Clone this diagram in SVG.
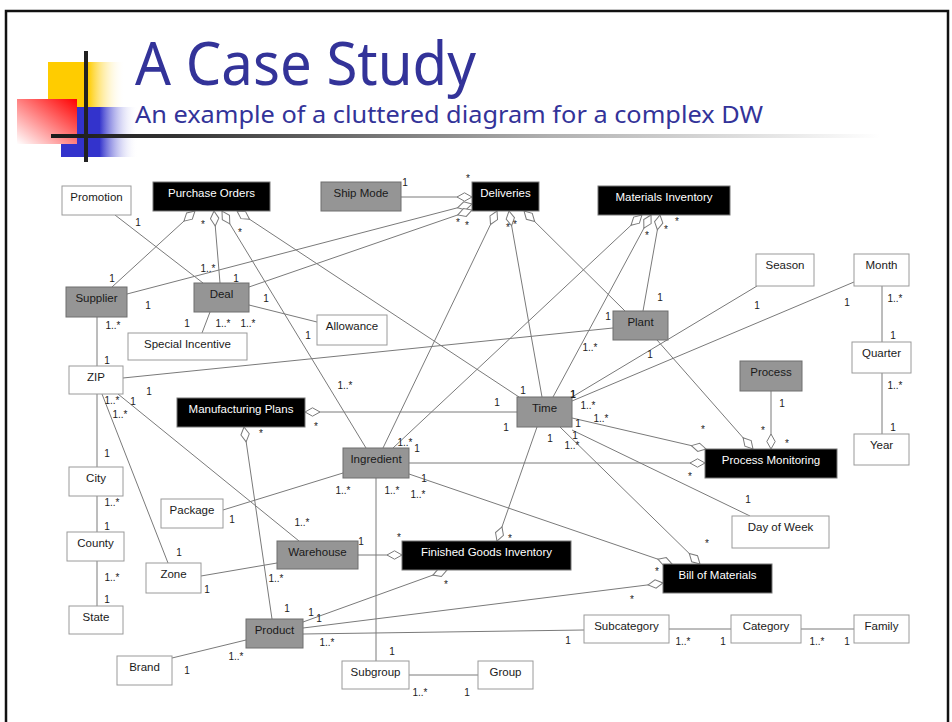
<svg xmlns="http://www.w3.org/2000/svg" width="952" height="722" viewBox="0 0 952 722">
<style>
  .w { fill: #ffffff; stroke: #9a9a9a; stroke-width: 1; }
  .g { fill: #959595; stroke: #6e6e6e; stroke-width: 1; }
  .b { fill: #000000; stroke: #777777; stroke-width: 1; }
  .lbl { font-family: "Liberation Sans", Arial, sans-serif; font-size: 11.5px; text-anchor: middle; fill: #1a1a1a; }
  .lblw { font-family: "Liberation Sans", Arial, sans-serif; font-size: 11.5px; text-anchor: middle; fill: #ffffff; }
  .m { font-family: "Liberation Sans", Arial, sans-serif; font-size: 10px; text-anchor: middle; fill: #222222; }
  #connectors line { stroke: #7a7a7a; stroke-width: 1; fill: none; }
  #connectors line.agg { marker-end: url(#dia); }
</style>
<defs>
  <marker id="dia" markerUnits="userSpaceOnUse" markerWidth="17" markerHeight="10" viewBox="0 0 17 10" refX="16" refY="5" orient="auto">
    <path d="M1,5 L8.5,0.8 L16,5 L8.5,9.2 Z" fill="#ffffff" stroke="#7a7a7a" stroke-width="1"/>
  </marker>
  <linearGradient id="yel" x1="0" y1="0" x2="1" y2="0">
    <stop offset="0" stop-color="#ffcc00"/>
    <stop offset="0.52" stop-color="#ffcc00"/>
    <stop offset="1" stop-color="#ffffff" stop-opacity="0"/>
  </linearGradient>
  <linearGradient id="blu" x1="0" y1="0" x2="1" y2="0">
    <stop offset="0" stop-color="#3333cc"/>
    <stop offset="0.5" stop-color="#3333cc"/>
    <stop offset="1" stop-color="#ffffff" stop-opacity="0"/>
  </linearGradient>
  <linearGradient id="red" x1="1" y1="0" x2="0" y2="1">
    <stop offset="0" stop-color="#ff0000"/>
    <stop offset="1" stop-color="#ffffff"/>
  </linearGradient>
  <linearGradient id="rule" gradientUnits="userSpaceOnUse" x1="51" y1="0" x2="880" y2="0">
    <stop offset="0" stop-color="#1a1a1a"/>
    <stop offset="0.15" stop-color="#333333"/>
    <stop offset="0.6" stop-color="#b0b0b0"/>
    <stop offset="1" stop-color="#ffffff"/>
  </linearGradient>
</defs>

<rect x="0" y="0" width="952" height="722" fill="#ffffff"/>
<rect x="6" y="11" width="942" height="720" fill="none" stroke="#111111" stroke-width="2.5"/>

<!-- slide header ornament -->
<g id="header">
  <rect x="48" y="62" width="77" height="45" fill="url(#yel)"/>
  <rect x="61" y="107" width="77" height="50" fill="url(#blu)"/>
  <rect x="17" y="99" width="60" height="45" fill="url(#red)"/>
  <rect x="51" y="134" width="829" height="4" fill="url(#rule)"/>
  <rect x="84" y="51" width="4" height="111" fill="#222222"/>
  <text x="135" y="85" font-family="Noto Sans, Open Sans, sans-serif" font-size="61" fill="#333399" textLength="341" lengthAdjust="spacingAndGlyphs">A Case Study</text>
  <text x="135" y="123" font-family="Noto Sans, Open Sans, sans-serif" font-size="23.5" fill="#333399" textLength="628" lengthAdjust="spacingAndGlyphs">An example of a cluttered diagram for a complex DW</text>
</g>

<g id="connectors">
  <line class="agg" x1="112" y1="287" x2="195" y2="211"/>
  <line class="agg" x1="220" y1="283" x2="214" y2="211"/>
  <line class="agg" x1="366" y1="448" x2="222" y2="211"/>
  <line class="agg" x1="519" y1="397" x2="237" y2="211"/>
  <line x1="115" y1="215" x2="203" y2="283"/>
  <line class="agg" x1="127" y1="294" x2="472" y2="204"/>
  <line class="agg" x1="249" y1="287" x2="472" y2="210"/>
  <line class="agg" x1="401" y1="197" x2="472" y2="197"/>
  <line class="agg" x1="383" y1="448" x2="497" y2="211"/>
  <line class="agg" x1="542" y1="397" x2="509" y2="211"/>
  <line class="agg" x1="625" y1="311" x2="524" y2="211"/>
  <line class="agg" x1="393" y1="448" x2="642" y2="215"/>
  <line class="agg" x1="553" y1="397" x2="651" y2="215"/>
  <line class="agg" x1="643" y1="311" x2="660" y2="215"/>
  <line x1="757" y1="286" x2="572" y2="397"/>
  <line x1="854" y1="282" x2="572" y2="401"/>
  <line x1="882" y1="286" x2="882" y2="342"/>
  <line x1="882" y1="373" x2="882" y2="434"/>
  <line class="agg" x1="657" y1="340" x2="753" y2="449"/>
  <line class="agg" x1="771" y1="391" x2="771" y2="449"/>
  <line class="agg" x1="572" y1="418" x2="706" y2="449"/>
  <line class="agg" x1="409" y1="463" x2="705" y2="463"/>
  <line x1="572" y1="430" x2="750" y2="516"/>
  <line class="agg" x1="560" y1="427" x2="700" y2="564"/>
  <line class="agg" x1="409" y1="474" x2="672" y2="564"/>
  <line class="agg" x1="303" y1="628" x2="663" y2="583"/>
  <line class="agg" x1="537" y1="427" x2="497" y2="541"/>
  <line class="agg" x1="358" y1="555" x2="402" y2="555"/>
  <line class="agg" x1="303" y1="622" x2="447" y2="570"/>
  <line x1="303" y1="634" x2="584" y2="630"/>
  <line x1="669" y1="629" x2="731" y2="629"/>
  <line x1="801" y1="629" x2="854" y2="629"/>
  <line x1="409" y1="675" x2="478" y2="675"/>
  <line x1="376" y1="478" x2="376" y2="661"/>
  <line x1="223" y1="510" x2="343" y2="473"/>
  <line x1="118" y1="394" x2="299" y2="541"/>
  <line x1="102" y1="394" x2="168" y2="563"/>
  <line x1="201" y1="576" x2="277" y2="563"/>
  <line x1="123" y1="378" x2="613" y2="328"/>
  <line x1="97" y1="317" x2="97" y2="366"/>
  <line x1="97" y1="394" x2="97" y2="467"/>
  <line x1="97" y1="496" x2="97" y2="532"/>
  <line x1="97" y1="561" x2="97" y2="606"/>
  <line x1="210" y1="312" x2="202" y2="333"/>
  <line x1="249" y1="305" x2="317" y2="322"/>
  <line class="agg" x1="517" y1="412" x2="305" y2="412"/>
  <line class="agg" x1="272" y1="619" x2="244" y2="427"/>
  <line x1="172" y1="658" x2="246" y2="640"/>
</g>

<!-- dimension tables -->
<g id="promotion"><rect class="w" x="62" y="186" width="69" height="29"/><text class="lbl" x="96.5" y="200.5">Promotion</text></g>
<g id="special-incentive"><rect class="w" x="128" y="333" width="119" height="27"/><text class="lbl" x="187.5" y="347.5">Special Incentive</text></g>
<g id="allowance"><rect class="w" x="317" y="315" width="70" height="30"/><text class="lbl" x="352" y="329.5">Allowance</text></g>
<g id="zip"><rect class="w" x="69" y="366" width="54" height="28"/><text class="lbl" x="96" y="380.5">ZIP</text></g>
<g id="city"><rect class="w" x="69" y="467" width="54" height="29"/><text class="lbl" x="96" y="481.5">City</text></g>
<g id="county"><rect class="w" x="67" y="532" width="57" height="29"/><text class="lbl" x="95.5" y="546.5">County</text></g>
<g id="state"><rect class="w" x="69" y="606" width="54" height="28"/><text class="lbl" x="96" y="620.5">State</text></g>
<g id="package"><rect class="w" x="161" y="499" width="62" height="29"/><text class="lbl" x="192" y="513.5">Package</text></g>
<g id="zone"><rect class="w" x="146" y="563" width="55" height="30"/><text class="lbl" x="173.5" y="577.5">Zone</text></g>
<g id="brand"><rect class="w" x="117" y="656" width="55" height="29"/><text class="lbl" x="144.5" y="670.5">Brand</text></g>
<g id="season"><rect class="w" x="756" y="254" width="58" height="32"/><text class="lbl" x="785" y="268.5">Season</text></g>
<g id="month"><rect class="w" x="854" y="254" width="55" height="32"/><text class="lbl" x="881.5" y="268.5">Month</text></g>
<g id="quarter"><rect class="w" x="852" y="342" width="59" height="31"/><text class="lbl" x="881.5" y="356.5">Quarter</text></g>
<g id="year"><rect class="w" x="854" y="434" width="55" height="31"/><text class="lbl" x="881.5" y="448.5">Year</text></g>
<g id="day-of-week"><rect class="w" x="732" y="516" width="97" height="32"/><text class="lbl" x="780.5" y="530.5">Day of Week</text></g>
<g id="subcategory"><rect class="w" x="584" y="615" width="85" height="28"/><text class="lbl" x="626.5" y="629.5">Subcategory</text></g>
<g id="category"><rect class="w" x="731" y="615" width="70" height="28"/><text class="lbl" x="766" y="629.5">Category</text></g>
<g id="family"><rect class="w" x="854" y="615" width="55" height="28"/><text class="lbl" x="881.5" y="629.5">Family</text></g>
<g id="subgroup"><rect class="w" x="342" y="661" width="67" height="28"/><text class="lbl" x="375.5" y="675.5">Subgroup</text></g>
<g id="group"><rect class="w" x="478" y="661" width="55" height="28"/><text class="lbl" x="505.5" y="675.5">Group</text></g>

<!-- shared dimensions -->
<g id="supplier"><rect class="g" x="66" y="287" width="61" height="30"/><text class="lbl" x="96.5" y="301.5">Supplier</text></g>
<g id="deal"><rect class="g" x="194" y="283" width="55" height="29"/><text class="lbl" x="221.5" y="297.5">Deal</text></g>
<g id="ship-mode"><rect class="g" x="321" y="182" width="80" height="29"/><text class="lbl" x="361" y="196.5">Ship Mode</text></g>
<g id="plant"><rect class="g" x="613" y="311" width="55" height="29"/><text class="lbl" x="640.5" y="325.5">Plant</text></g>
<g id="time"><rect class="g" x="517" y="397" width="55" height="30"/><text class="lbl" x="544.5" y="411.5">Time</text></g>
<g id="process"><rect class="g" x="740" y="361" width="62" height="30"/><text class="lbl" x="771" y="375.5">Process</text></g>
<g id="ingredient"><rect class="g" x="343" y="448" width="66" height="30"/><text class="lbl" x="376" y="462.5">Ingredient</text></g>
<g id="warehouse"><rect class="g" x="277" y="541" width="81" height="28"/><text class="lbl" x="317.5" y="555.5">Warehouse</text></g>
<g id="product"><rect class="g" x="246" y="619" width="57" height="29"/><text class="lbl" x="274.5" y="633.5">Product</text></g>

<!-- fact tables -->
<g id="purchase-orders"><rect class="b" x="153" y="182" width="117" height="29"/><text class="lblw" x="211.5" y="196.5">Purchase Orders</text></g>
<g id="deliveries"><rect class="b" x="472" y="182" width="67" height="29"/><text class="lblw" x="505.5" y="196.5">Deliveries</text></g>
<g id="materials-inventory"><rect class="b" x="598" y="186" width="132" height="29"/><text class="lblw" x="664" y="200.5">Materials Inventory</text></g>
<g id="manufacturing-plans"><rect class="b" x="177" y="398" width="128" height="29"/><text class="lblw" x="241" y="412.5">Manufacturing Plans</text></g>
<g id="process-monitoring"><rect class="b" x="705" y="449" width="132" height="29"/><text class="lblw" x="771" y="463.5">Process Monitoring</text></g>
<g id="finished-goods-inventory"><rect class="b" x="402" y="541" width="169" height="29"/><text class="lblw" x="486.5" y="555.5">Finished Goods Inventory</text></g>
<g id="bill-of-materials"><rect class="b" x="663" y="564" width="109" height="29"/><text class="lblw" x="717.5" y="578.5">Bill of Materials</text></g>

<!-- multiplicities -->
<g id="multiplicities">
  <text class="m" x="138" y="226">1</text>
  <text class="m" x="203" y="228">*</text>
  <text class="m" x="240" y="236">*</text>
  <text class="m" x="208" y="272">1..*</text>
  <text class="m" x="112" y="282">1</text>
  <text class="m" x="236" y="282">1</text>
  <text class="m" x="148" y="309">1</text>
  <text class="m" x="187" y="327">1</text>
  <text class="m" x="223" y="327">1..*</text>
  <text class="m" x="248" y="327">1..*</text>
  <text class="m" x="266" y="302">1</text>
  <text class="m" x="308" y="339">1</text>
  <text class="m" x="113" y="329">1..*</text>
  <text class="m" x="405" y="186">1</text>
  <text class="m" x="468" y="182">*</text>
  <text class="m" x="458" y="226">*</text>
  <text class="m" x="467" y="229">*</text>
  <text class="m" x="508" y="231">*</text>
  <text class="m" x="515" y="228">*</text>
  <text class="m" x="647" y="239">*</text>
  <text class="m" x="666" y="233">*</text>
  <text class="m" x="677" y="225">*</text>
  <text class="m" x="660" y="301">1</text>
  <text class="m" x="608" y="320">1</text>
  <text class="m" x="590" y="351">1..*</text>
  <text class="m" x="650" y="358">1</text>
  <text class="m" x="757" y="309">1</text>
  <text class="m" x="847" y="306">1</text>
  <text class="m" x="895" y="302">1..*</text>
  <text class="m" x="893" y="339">1</text>
  <text class="m" x="895" y="389">1..*</text>
  <text class="m" x="893" y="431">1</text>
  <text class="m" x="107" y="364">1</text>
  <text class="m" x="149" y="395">1</text>
  <text class="m" x="133" y="405">1</text>
  <text class="m" x="112" y="404">1..*</text>
  <text class="m" x="120" y="418">1..*</text>
  <text class="m" x="345" y="389">1..*</text>
  <text class="m" x="316" y="430">*</text>
  <text class="m" x="261" y="437">*</text>
  <text class="m" x="497" y="406">1</text>
  <text class="m" x="523" y="394">1</text>
  <text class="m" x="573" y="398" font-weight="bold">1</text>
  <text class="m" x="588" y="409">1..*</text>
  <text class="m" x="601" y="422">1..*</text>
  <text class="m" x="578" y="427">1</text>
  <text class="m" x="575" y="439">1</text>
  <text class="m" x="572" y="449">1..*</text>
  <text class="m" x="550" y="442">1</text>
  <text class="m" x="506" y="431">1</text>
  <text class="m" x="405" y="446">1..*</text>
  <text class="m" x="417" y="452">1</text>
  <text class="m" x="424" y="482">1</text>
  <text class="m" x="343" y="494">1..*</text>
  <text class="m" x="392" y="494">1..*</text>
  <text class="m" x="418" y="498">1..*</text>
  <text class="m" x="782" y="407">1</text>
  <text class="m" x="763" y="434">*</text>
  <text class="m" x="787" y="447">*</text>
  <text class="m" x="703" y="433">*</text>
  <text class="m" x="690" y="480">*</text>
  <text class="m" x="748" y="503">1</text>
  <text class="m" x="707" y="547">*</text>
  <text class="m" x="657" y="575">*</text>
  <text class="m" x="632" y="603">*</text>
  <text class="m" x="107" y="457">1</text>
  <text class="m" x="112" y="506">1..*</text>
  <text class="m" x="107" y="530">1</text>
  <text class="m" x="112" y="581">1..*</text>
  <text class="m" x="107" y="603">1</text>
  <text class="m" x="232" y="523">1</text>
  <text class="m" x="302" y="526">1..*</text>
  <text class="m" x="179" y="556">1</text>
  <text class="m" x="207" y="593">1</text>
  <text class="m" x="276" y="582">1..*</text>
  <text class="m" x="361" y="545">1</text>
  <text class="m" x="399" y="541">*</text>
  <text class="m" x="510" y="542">*</text>
  <text class="m" x="446" y="588">*</text>
  <text class="m" x="287" y="612">1</text>
  <text class="m" x="311" y="616">1</text>
  <text class="m" x="319" y="622">1</text>
  <text class="m" x="327" y="646">1..*</text>
  <text class="m" x="568" y="644">1</text>
  <text class="m" x="236" y="660">1..*</text>
  <text class="m" x="187" y="674">1</text>
  <text class="m" x="392" y="655">1</text>
  <text class="m" x="420" y="696">1..*</text>
  <text class="m" x="467" y="696">1</text>
  <text class="m" x="683" y="645">1..*</text>
  <text class="m" x="723" y="645">1</text>
  <text class="m" x="817" y="645">1..*</text>
  <text class="m" x="847" y="645">1</text>
</g>
</svg>
